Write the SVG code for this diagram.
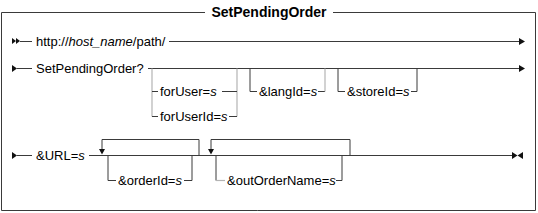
<svg xmlns="http://www.w3.org/2000/svg" width="538" height="213" viewBox="0 0 538 213">
<style>
.ln{fill:none;stroke:#3a3a3a;stroke-width:1}
.lg{fill:none;stroke:#b4b4b4;stroke-width:1.2}
.ah{fill:#111;stroke:none}
.t{font-family:"Liberation Sans",Arial,sans-serif;font-size:13px;fill:#000}
.ttl{font-family:"Liberation Sans",Arial,sans-serif;font-size:14px;font-weight:bold;fill:#000}
.i{font-style:italic}
</style>
<rect width="538" height="213" fill="#fff"/>
<g id="frame">
<path class="ln" d="M205,12.5 H1.5 V210.5 H535.5 V12.5 H333"/>
<text class="ttl" x="269" y="17" text-anchor="middle">SetPendingOrder</text>
</g>
<g id="connectors">
<!-- row 1 -->
<polygon class="ah" points="12,38 16,41 12,44"/>
<polygon class="ah" points="16,38 20,41 16,44"/>
<path class="ln" d="M20,41.5 H32 M169,41.5 H519"/>
<polygon class="ah" points="519,38 525,41.5 519,45"/>
<!-- row 2 -->
<polygon class="ah" points="12,65 17,68.5 12,72"/>
<path class="ln" d="M17,68.5 H32 M148,68.5 H519"/>
<polygon class="ah" points="519,65 525,68.5 519,72"/>
<path class="lg" d="M152,68.5 V116.5 M237,68.5 V116.5"/>
<path class="ln" d="M152,91.5 H158 M222,91.5 H237 M152,116.5 H158 M229,116.5 H237"/>
<path class="ln" d="M250,68.5 V91.5 H257 M318,91.5 H325"/>
<path class="lg" d="M325,91.5 V68.5"/>
<path class="ln" d="M338,68.5 V91.5 H345 M411,91.5 H417 V68.5"/>
<!-- row 3 -->
<polygon class="ah" points="12,152 17,155.5 12,159"/>
<path class="ln" d="M17,155.5 H32 M89,155.5 H513"/>
<path class="ln" d="M199,155.5 V139.5 H102 V149"/>
<polygon class="ah" points="99,149 105,149 102,154.5"/>
<path class="ln" d="M108,155.5 V180.5 H116 M184,180.5 H192 V155.5"/>
<path class="ln" d="M350,155.5 V139.5 H211 V149"/>
<polygon class="ah" points="208,149 214,149 211,154.5"/>
<path class="ln" d="M216,155.5 V180.5"/>
<path class="lg" d="M216,180.5 H225"/>
<path class="ln" d="M336,180.5 H342 V155.5"/>
<polygon class="ah" points="512,152 517.5,155.5 512,159"/>
<polygon class="ah" points="523,152 517.5,155.5 523,159"/>
</g>
<g id="n-http"><text class="t" x="36" y="46">http://<tspan class="i">host_name</tspan>/path/</text></g>
<g id="n-setpendingorder"><text class="t" x="36" y="73">SetPendingOrder?</text></g>
<g id="n-foruser"><text class="t" x="160" y="96">forUser=<tspan class="i">s</tspan></text></g>
<g id="n-foruserid"><text class="t" x="160" y="121">forUserId=<tspan class="i">s</tspan></text></g>
<g id="n-langid"><text class="t" x="259" y="96">&amp;langId=<tspan class="i">s</tspan></text></g>
<g id="n-storeid"><text class="t" x="347" y="96">&amp;storeId=<tspan class="i">s</tspan></text></g>
<g id="n-url"><text class="t" x="36" y="160">&amp;URL=<tspan class="i">s</tspan></text></g>
<g id="n-orderid"><text class="t" x="118" y="185">&amp;orderId=<tspan class="i">s</tspan></text></g>
<g id="n-outordername"><text class="t" x="227" y="185">&amp;outOrderName=<tspan class="i">s</tspan></text></g>
</svg>
